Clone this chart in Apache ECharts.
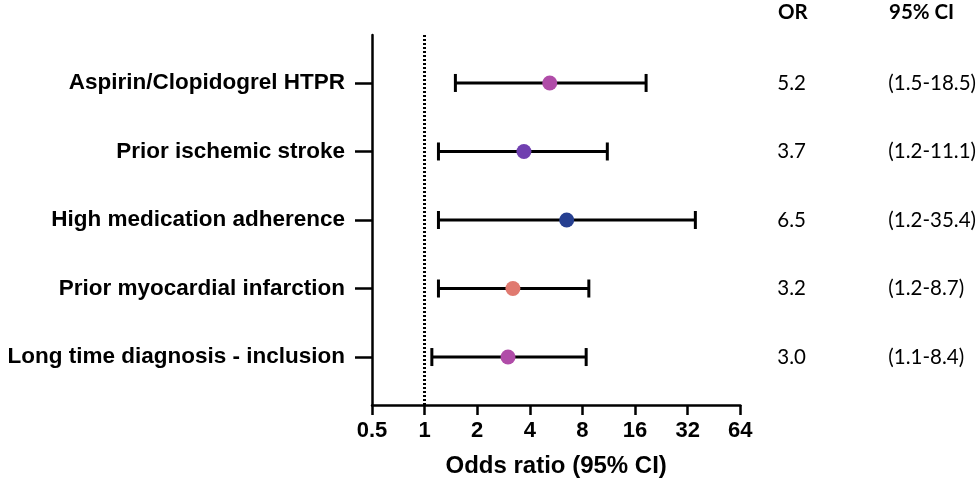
<!DOCTYPE html>
<html><head><meta charset="utf-8">
<script src="https://cdn.jsdelivr.net/npm/echarts@6/dist/echarts.min.js"></script>
<style>html,body{margin:0;padding:0;background:#fff}#c{width:979px;height:483px}</style>
</head><body><div id="c"></div>
<script>
const categories = ['Aspirin/Clopidogrel HTPR','Prior ischemic stroke','High medication adherence','Prior myocardial infarction','Long time diagnosis - inclusion'];
const orValues = [5.2, 3.7, 6.5, 3.2, 3.0];
const ciLow = [1.5, 1.2, 1.2, 1.2, 1.1];
const ciHigh = [18.5, 11.1, 35.4, 8.7, 8.4];
const orLabels = ['5.2','3.7','6.5','3.2','3.0'];
const ciLabels = ['(1.5-18.5)','(1.2-11.1)','(1.2-35.4)','(1.2-8.7)','(1.1-8.4)'];
const xTicks = [0.5, 1, 2, 4, 8, 16, 32, 64];
const colors = ['#b04ca8','#7040b0','#263f90','#e07a70','#b04ca8'];

const rows = categories.map((c,i)=>i+1);
const chart = echarts.init(document.getElementById('c'));
const boldFam = '"Liberation Sans", Arial, sans-serif';
const colFont = {fontFamily:'Lato, "Noto Sans"', fontSize:20.5, color:'#000'};

chart.setOption({
  animation:false,
  backgroundColor:'#fff',
  grid:{left:372, right:238, top:35, bottom:78, containLabel:false},
  xAxis:{
    type:'log', logBase:2, min:0.5, max:64,
    axisLine:{show:true, lineStyle:{color:'#000', width:2.5}},
    axisTick:{show:true, length:10, lineStyle:{color:'#000', width:2.5}, customValues: xTicks},
    axisLabel:{fontFamily:boldFam, fontWeight:'bold', fontSize:22, color:'#000', margin:15, customValues: xTicks, formatter:v=>String(Math.round(v*100)/100)},
    splitLine:{show:false}, minorTick:{show:false},
    name:'Odds ratio (95% CI)', nameLocation:'middle', nameGap:49,
    nameTextStyle:{fontFamily:boldFam, fontWeight:'bold', fontSize:24, color:'#000'}
  },
  yAxis:[{
    type:'value', min:0.3, max:5.7, inverse:true,
    axisLine:{show:true, lineStyle:{color:'#000', width:2.5}},
    axisTick:{show:true, length:17, lineStyle:{color:'#000', width:2.5}, customValues: rows},
    axisLabel:{fontFamily:boldFam, fontWeight:'bold', fontSize:22.5, color:'#000', margin:27, customValues: rows, formatter:v=>categories[Math.round(v)-1]},
    splitLine:{show:false}
  },{
    type:'value', min:0.3, max:5.7, inverse:true, position:'right',
    axisLine:{show:false}, axisTick:{show:false}, splitLine:{show:false},
    axisLabel:{...colFont, align:'left', margin:37, customValues: rows, formatter:v=>orLabels[Math.round(v)-1]}
  },{
    type:'value', min:0.3, max:5.7, inverse:true, position:'right',
    axisLine:{show:false}, axisTick:{show:false}, splitLine:{show:false},
    axisLabel:{...colFont, align:'left', margin:148, customValues: rows, formatter:v=>ciLabels[Math.round(v)-1]}
  }],
  graphic:[
    {type:'text', left:778, top:2, style:{text:'OR', font:'bold 20.5px Lato, "Noto Sans"', fill:'#000'}},
    {type:'text', left:889, top:2, style:{text:'95% CI', font:'bold 20.5px Lato, "Noto Sans"', fill:'#000'}}
  ],
  series:[
    {
      type:'custom',
      data: rows.map((r,i)=>[ciLow[i], ciHigh[i], r]),
      renderItem:(params, api)=>{
        const lo = api.coord([api.value(0), api.value(2)]);
        const hi = api.coord([api.value(1), api.value(2)]);
        const h = 9;
        const st = {stroke:'#000', lineWidth:3, fill:null};
        return {type:'group', children:[
          {type:'line', shape:{x1:lo[0], y1:lo[1], x2:hi[0], y2:hi[1]}, style:st},
          {type:'line', shape:{x1:lo[0], y1:lo[1]-h, x2:lo[0], y2:lo[1]+h}, style:st},
          {type:'line', shape:{x1:hi[0], y1:hi[1]-h, x2:hi[0], y2:hi[1]+h}, style:st}
        ]};
      },
      z:2,
      markLine:{
        silent:true, symbol:'none', label:{show:false},
        lineStyle:{type:[2,2], color:'#000', width:3},
        data:[{xAxis:1}]
      }
    },
    {
      type:'scatter', symbol:'circle', symbolSize:15, z:3,
      data: rows.map((r,i)=>({value:[orValues[i], r], itemStyle:{color:colors[i], opacity:1}}))
    }
  ]
});
</script></body></html>
